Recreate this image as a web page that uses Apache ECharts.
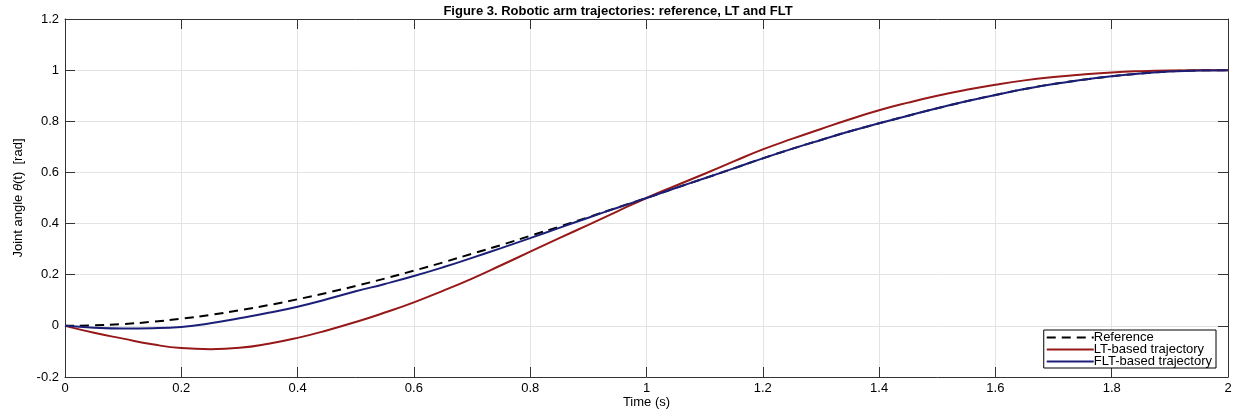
<!DOCTYPE html>
<html>
<head>
<meta charset="utf-8">
<script src="https://cdn.jsdelivr.net/npm/echarts@6/dist/echarts.min.js"></script>
<style>
  html, body { margin: 0; padding: 0; background: #fff; }
  #chart { width: 1236px; height: 413px; }
</style>
</head>
<body>
<div id="chart"></div>
<script>
// time samples (s)
const times = [0, 0.05, 0.1, 0.15, 0.2, 0.25, 0.3, 0.35, 0.4, 0.45, 0.5,
  0.55, 0.6, 0.65, 0.7, 0.75, 0.8, 0.85, 0.9, 0.95, 1.0,
  1.05, 1.1, 1.15, 1.2, 1.25, 1.3, 1.35, 1.4, 1.45, 1.5,
  1.55, 1.6, 1.65, 1.7, 1.75, 1.8, 1.85, 1.9, 1.95, 2.0];
const reference = [0, 0.002, 0.007, 0.016, 0.028, 0.043, 0.061, 0.081, 0.104, 0.129, 0.156,
  0.185, 0.216, 0.248, 0.282, 0.316, 0.352, 0.388, 0.425, 0.463, 0.5,
  0.539, 0.577, 0.616, 0.655, 0.692, 0.727, 0.761, 0.792, 0.822, 0.851,
  0.878, 0.903, 0.926, 0.946, 0.962, 0.976, 0.987, 0.995, 0.999, 1];
const ltTraj = [0, -0.027, -0.05, -0.072, -0.087, -0.091, -0.086, -0.07, -0.047, -0.018, 0.015,
  0.052, 0.092, 0.137, 0.185, 0.237, 0.29, 0.343, 0.395, 0.448, 0.5,
  0.548, 0.595, 0.643, 0.69, 0.731, 0.77, 0.808, 0.843, 0.873, 0.9,
  0.923, 0.943, 0.96, 0.973, 0.983, 0.991, 0.996, 0.999, 1, 1];
const fltTraj = [0, -0.007, -0.01, -0.009, -0.004, 0.01, 0.03, 0.051, 0.075, 0.104, 0.135,
  0.164, 0.195, 0.229, 0.266, 0.304, 0.343, 0.383, 0.423, 0.462, 0.5,
  0.539, 0.577, 0.616, 0.655, 0.692, 0.727, 0.761, 0.792, 0.822, 0.851,
  0.878, 0.903, 0.926, 0.946, 0.962, 0.976, 0.987, 0.995, 0.999, 1];
const seriesNames = ["Reference", "LT-based trajectory", "FLT-based trajectory"];

const pairs = (vals) => times.map((t, i) => [t, vals[i]]);
const fmt = (v) => String(Number(v.toFixed(1)));

const chart = echarts.init(document.getElementById("chart"));

const font = "Liberation Sans, Arial";
const frameLine = { show: true, onZero: false, lineStyle: { color: "#333", width: 1 } };
const tick = { show: true, inside: true, length: 10, lineStyle: { color: "#333" } };
const label = { color: "#000", fontSize: 13, fontFamily: font };

chart.setOption({
  animation: false,
  backgroundColor: "#fff",
  title: {
    text: "Figure 3. Robotic arm trajectories: reference, LT and FLT",
    left: "center",
    top: 0,
    textStyle: { fontSize: 13, fontWeight: "bold", color: "#000", fontFamily: font },
  },
  grid: { left: 65, right: 8, top: 19, bottom: 36, outerBoundsMode: "none" },
  legend: {
    data: seriesNames,
    orient: "vertical",
    right: 20,
    bottom: 45,
    itemWidth: 47,
    itemHeight: 10,
    itemGap: -1,
    padding: [1, 4, 0, 2],
    borderColor: "#000",
    borderWidth: 1,
    backgroundColor: "#fff",
    itemStyle: { opacity: 0 },
    textStyle: { fontSize: 13, lineHeight: 12, color: "#000", fontFamily: font, padding: [0, 0, 0, -5] },
  },
  xAxis: [
    {
      type: "value", min: 0, max: 2, interval: 0.2,
      name: "Time (s)", nameLocation: "middle", nameGap: 19, nameMoveOverlap: false,
      nameTextStyle: { fontSize: 13, color: "#000", fontFamily: font },
      axisLine: frameLine, axisTick: tick,
      axisLabel: Object.assign({ formatter: fmt, margin: 5 }, label),
      splitLine: { show: true, lineStyle: { color: "#e3e3e3", width: 1 } },
    },
    {
      type: "value", min: 0, max: 2, interval: 0.2, position: "top",
      axisLine: frameLine, axisTick: tick, axisLabel: { show: false }, splitLine: { show: false },
    },
  ],
  yAxis: [
    {
      type: "value", min: -0.2, max: 1.2, interval: 0.2,
      name: "{a|Joint angle }{b|θ}{a|(t)  [rad]}", nameLocation: "middle", nameGap: 40,
      nameTextStyle: {
        fontSize: 13, color: "#000", fontFamily: font,
        rich: {
          a: { fontSize: 13, color: "#000", fontFamily: font },
          b: { fontSize: 13, color: "#000", fontStyle: "italic", fontFamily: font },
        },
      },
      axisLine: frameLine, axisTick: tick,
      axisLabel: Object.assign({ formatter: fmt, margin: 6 }, label),
      splitLine: { show: true, lineStyle: { color: "#e3e3e3", width: 1 } },
    },
    {
      type: "value", min: -0.2, max: 1.2, interval: 0.2, position: "right",
      axisLine: frameLine, axisTick: tick, axisLabel: { show: false }, splitLine: { show: false },
    },
  ],
  series: [
    {
      name: seriesNames[0], type: "line", smooth: true, symbol: "none",
      data: pairs(reference),
      lineStyle: { color: "#000", width: 2, type: [9, 6] },
      itemStyle: { color: "#000" },
    },
    {
      name: seriesNames[1], type: "line", smooth: true, symbol: "none",
      data: pairs(ltTraj),
      lineStyle: { color: "#961818", width: 2 },
      itemStyle: { color: "#961818" },
    },
    {
      name: seriesNames[2], type: "line", smooth: true, symbol: "none",
      data: pairs(fltTraj),
      lineStyle: { color: "#1c1f78", width: 2 },
      itemStyle: { color: "#1c1f78" },
    },
  ],
});
</script>
</body>
</html>
